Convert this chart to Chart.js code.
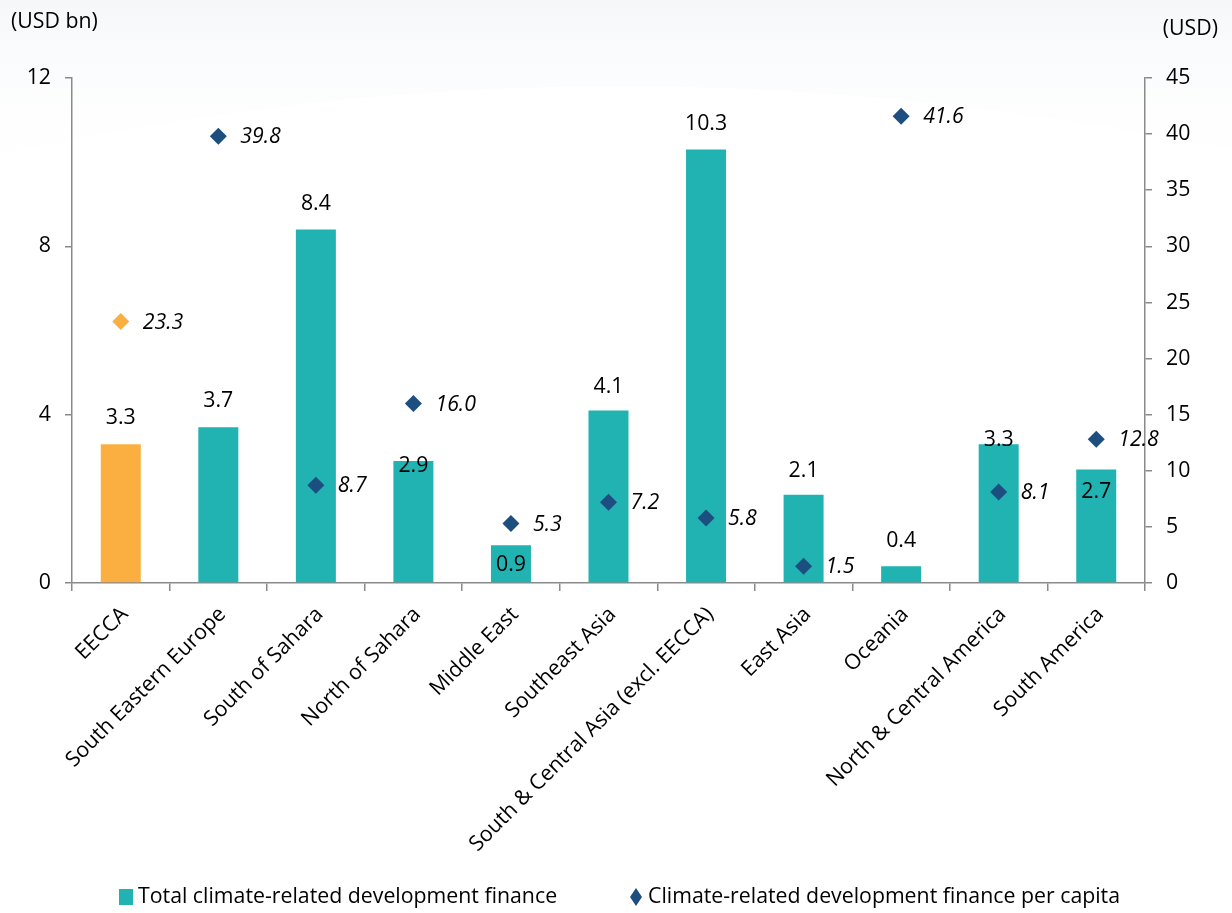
<!DOCTYPE html>
<html>
<head>
<meta charset="utf-8">
<script src="https://cdn.jsdelivr.net/npm/chart.js@4/dist/chart.umd.min.js"></script>
<style>
  html, body { margin: 0; padding: 0; background: #ffffff; }
  #wrap { width: 1232px; height: 913px; position: relative; }
</style>
</head>
<body>
<div id="wrap"><canvas id="c" width="1232" height="913"></canvas></div>
<script>
// Regions and values
const regions = [
  'EECCA', 'South Eastern Europe', 'South of Sahara', 'North of Sahara',
  'Middle East', 'Southeast Asia', 'South & Central Asia (excl. EECCA)',
  'East Asia', 'Oceania', 'North & Central America', 'South America'
];
const totalFinance = [3.3, 3.7, 8.4, 2.9, 0.9, 4.1, 10.3, 2.1, 0.4, 3.3, 2.7];   // USD bn
const perCapita = [23.3, 39.8, 8.7, 16.0, 5.3, 7.2, 5.8, 1.5, 41.6, 8.1, 12.8];   // USD
const leftAxisTicks = [0, 4, 8, 12];
const rightAxisTicks = [0, 5, 10, 15, 20, 25, 30, 35, 40, 45];
const seriesNames = ['Total climate-related development finance', 'Climate-related development finance per capita'];
const highlighted = 'EECCA';

// Styling
const TEAL = '#21b2b2';
const ORANGE = '#fbaf41';
const NAVY = '#1d4e80';
const AXIS = '#8a8a8a';
const FONT = "'Open Sans', 'Noto Sans', sans-serif";
const SIZE = 21.3;
// vertical placement of each bar's value label, in px above the bar top
const barLabelLift = [26, 26, 26, -5, -20, 24, 26, 24, 25, 4, -23];

const barColors = regions.map(r => r === highlighted ? ORANGE : TEAL);
const pointColors = regions.map(r => r === highlighted ? ORANGE : NAVY);

const backdrop = {
  id: 'backdrop',
  beforeDraw(chart) {
    const { ctx, width, height } = chart;
    ctx.save();
    ctx.fillStyle = '#ffffff';
    ctx.fillRect(0, 0, width, height);
    const g = ctx.createLinearGradient(0, 0, 0, 200);
    g.addColorStop(0, 'rgba(238,241,245,0.55)');
    g.addColorStop(1, 'rgba(255,255,255,0)');
    ctx.fillStyle = g;
    ctx.beginPath();
    ctx.moveTo(0, 0);
    ctx.lineTo(width, 0);
    ctx.lineTo(width, 150);
    ctx.quadraticCurveTo(600, 20, 0, 155);
    ctx.closePath();
    ctx.fill();
    ctx.restore();
  }
};

const annotations = {
  id: 'annotations',
  afterDraw(chart) {
    const { ctx } = chart;
    ctx.save();
    ctx.fillStyle = '#000';
    ctx.font = `${SIZE}px ${FONT}`;
    ctx.textBaseline = 'middle';

    // axis unit captions
    ctx.textAlign = 'left';
    ctx.fillText('(USD bn)', 11, 22);
    ctx.textAlign = 'right';
    ctx.fillText('(USD)', 1218, 29);

    // bar value labels
    const bars = chart.getDatasetMeta(1);
    ctx.textAlign = 'center';
    bars.data.forEach((el, i) => {
      ctx.fillText(totalFinance[i].toFixed(1), el.x, el.y - barLabelLift[i]);
    });

    // per-capita value labels
    const pts = chart.getDatasetMeta(0);
    ctx.font = `italic ${SIZE}px ${FONT}`;
    ctx.textAlign = 'left';
    pts.data.forEach((el, i) => {
      ctx.fillText(perCapita[i].toFixed(1), el.x + 22, el.y + 1);
    });

    // legend
    const ly = 897;
    ctx.font = `${SIZE}px ${FONT}`;
    ctx.fillStyle = TEAL;
    ctx.fillRect(119, ly - 8, 14, 16);
    ctx.fillStyle = '#000';
    ctx.fillText(seriesNames[0], 138, ly);
    ctx.fillStyle = NAVY;
    ctx.beginPath();
    ctx.moveTo(636, ly - 9);
    ctx.lineTo(642, ly);
    ctx.lineTo(636, ly + 9);
    ctx.lineTo(630, ly);
    ctx.closePath();
    ctx.fill();
    ctx.fillStyle = '#000';
    ctx.fillText(seriesNames[1], 648, ly);
    ctx.restore();
  }
};

new Chart(document.getElementById('c'), {
  type: 'bar',
  data: {
    labels: regions,
    datasets: [
      {
        type: 'line',
        label: seriesNames[1],
        data: perCapita,
        yAxisID: 'y2',
        showLine: false,
        pointStyle: 'rectRot',
        pointRadius: 8.5,
        pointBorderWidth: 0,
        pointBackgroundColor: pointColors,
        pointBorderColor: pointColors,
        order: 0
      },
      {
        type: 'bar',
        label: seriesNames[0],
        data: totalFinance,
        yAxisID: 'y',
        backgroundColor: barColors,
        borderWidth: 0,
        categoryPercentage: 1,
        barPercentage: 0.41,
        order: 1
      }
    ]
  },
  options: {
    responsive: false,
    animation: false,
    devicePixelRatio: 1,
    layout: { padding: { top: 78, left: 0, right: 0, bottom: 0 } },
    plugins: {
      legend: { display: false },
      tooltip: { enabled: false }
    },
    scales: {
      x: {
        grid: { offset: true, drawOnChartArea: false, drawTicks: true, tickLength: 8, color: AXIS, lineWidth: 1.5 },
        border: { color: AXIS, width: 1.5 },
        ticks: {
          autoSkip: false, maxRotation: 45, minRotation: 45, padding: 11, labelOffset: 4,
          color: '#000', font: { family: FONT, size: SIZE }
        },
        afterFit(scale) { scale.height = 330; }
      },
      y: {
        position: 'left',
        min: 0, max: 12,
        afterBuildTicks(scale) { scale.ticks = leftAxisTicks.map(v => ({ value: v })); },
        grid: { drawOnChartArea: false, drawTicks: true, tickLength: 7, color: AXIS, lineWidth: 1.5 },
        border: { color: AXIS, width: 1.5 },
        ticks: { padding: 14, color: '#000', font: { family: FONT, size: SIZE } },
        afterFit(scale) { scale.width = 72; }
      },
      y2: {
        position: 'right',
        min: 0, max: 45,
        afterBuildTicks(scale) { scale.ticks = rightAxisTicks.map(v => ({ value: v })); },
        grid: { drawOnChartArea: false, drawTicks: true, tickLength: 7, color: AXIS, lineWidth: 1.5 },
        border: { color: AXIS, width: 1.5 },
        ticks: { padding: 14, color: '#000', font: { family: FONT, size: SIZE } },
        afterFit(scale) { scale.width = 87; }
      }
    }
  },
  plugins: [backdrop, annotations]
});
</script>
</body>
</html>
